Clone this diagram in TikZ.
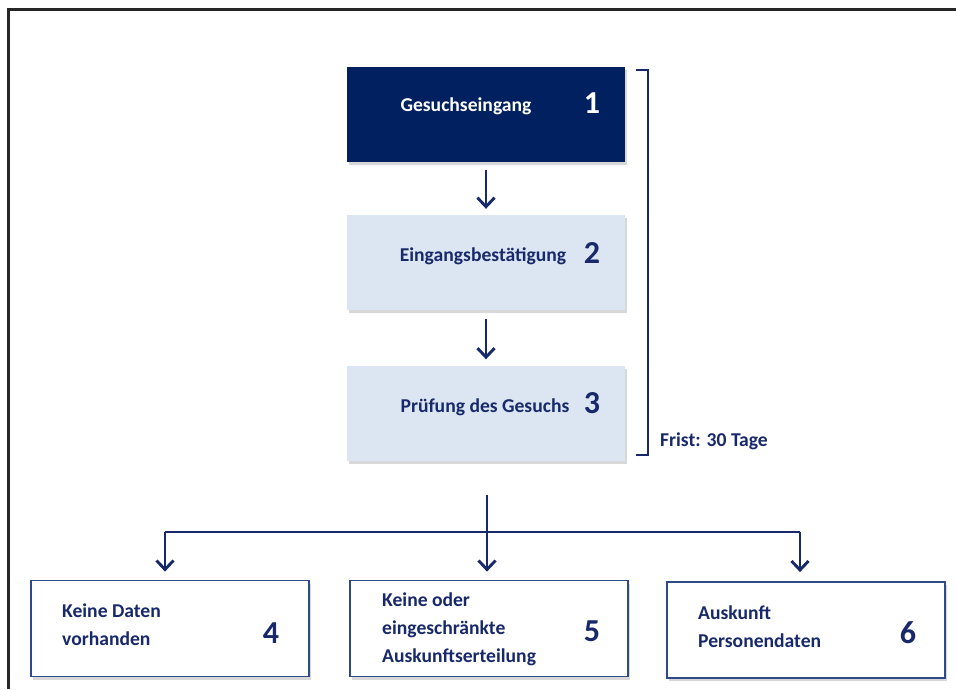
\documentclass[tikz,border=0pt]{standalone}
\usepackage{fontspec}
\setmainfont{Carlito}
\usetikzlibrary{arrows.meta,shadows}
\definecolor{navy}{HTML}{002060}
\definecolor{ink}{HTML}{17296A}
\definecolor{lightbox}{HTML}{DCE6F2}
\definecolor{boxedge}{HTML}{2F4A8A}
\tikzset{
  boxbase/.style={minimum width=278pt, inner sep=0pt,
    drop shadow={shadow xshift=2pt, shadow yshift=-3pt, opacity=0.25, fill=black!60}},
  darkbox/.style={boxbase, fill=navy, minimum height=95pt},
  lightbox/.style={boxbase, fill=lightbox, minimum height=95pt},
  outbox/.style={boxbase, fill=white, draw=boxedge, line width=1.8pt, minimum height=96pt},
  label/.style={font=\fontsize{19.6}{28}\selectfont\bfseries, text=ink, inner sep=0pt, align=left},
  wlabel/.style={label, text=white},
  num/.style={font=\fontsize{32}{32}\selectfont\bfseries, text=ink, inner sep=0pt},
  wnum/.style={num, text=white},
  conn/.style={draw=ink, line width=2.9pt},
  arr/.style={conn, -{Straight Barb[length=9pt,width=17pt,line width=2.9pt]}},
  framestyle/.style={draw=black!85, line width=3pt}
}
\begin{document}
\begin{tikzpicture}[x=1pt,y=-1pt]
\useasboundingbox (0,0) rectangle (956,689);
\fill[white] (0,0) rectangle (956,689);
% frame
\coordinate (f1) at (8,689);
\coordinate (f2) at (8,9);
\coordinate (f3) at (956,9);
\draw[framestyle] (f1) -- (f2) -- (f3);

% main boxes
\node[darkbox]  (b1) at (486,114.5) {};
\node[lightbox] (b2) at (486,262.5) {};
\node[lightbox] (b3) at (486,413) {};
\node[wlabel] (t1) at (466,106) {Gesuchseingang};
\node[wnum]   (n1) at (592,103) {1};
\node[label]  (t2) at (483,256) {Eingangsbestätigung};
\node[num]    (n2) at (592,253) {2};
\node[label]  (t3) at (485,407) {Prüfung des Gesuchs};
\node[num]    (n3) at (592,403) {3};

% bracket
\coordinate (k1) at (636,70);
\coordinate (k2) at (648,70);
\coordinate (k3) at (648,455);
\coordinate (k4) at (636,455);
\draw[conn] (k1) -- (k2) -- (k3) -- (k4);
\node[label, anchor=west] (frist) at (660,441) {Frist: 30 Tage};

% arrows between main boxes
\draw[arr] ([yshift=-8pt]b1.south) -- ([yshift=6pt]b2.north);
\draw[arr] ([yshift=-9pt]b2.south) -- ([yshift=6pt]b3.north);

% bottom boxes
\node[outbox] (b4) at (170,628.5) {};
\node[outbox] (b5) at (489,628.5) {};
\node[outbox] (b6) at (806,630) {};
\node[label, anchor=west] (t4) at (62,625) {Keine Daten\\vorhanden};
\node[num] (n4) at (271,633) {4};
\node[label, anchor=west] (t5) at (382,629) {Keine oder\\eingeschränkte\\Auskunftserteilung};
\node[num] (n5) at (592,631) {5};
\node[label, anchor=west] (t6) at (698,627) {Auskunft\\Personendaten};
\node[num] (n6) at (908,633) {6};

% distribution
\coordinate (top) at (487,495);
\coordinate (jl) at (165,532);
\coordinate (jr) at (800,532);
\draw[conn] (jl) -- (jr);
\draw[arr] (top) -- ([yshift=8pt]top |- b5.north);
\draw[arr] (jl) -- ([yshift=8pt]jl |- b4.north);
\draw[arr] (jr) -- ([yshift=9pt]jr |- b6.north);
\end{tikzpicture}
\end{document}
